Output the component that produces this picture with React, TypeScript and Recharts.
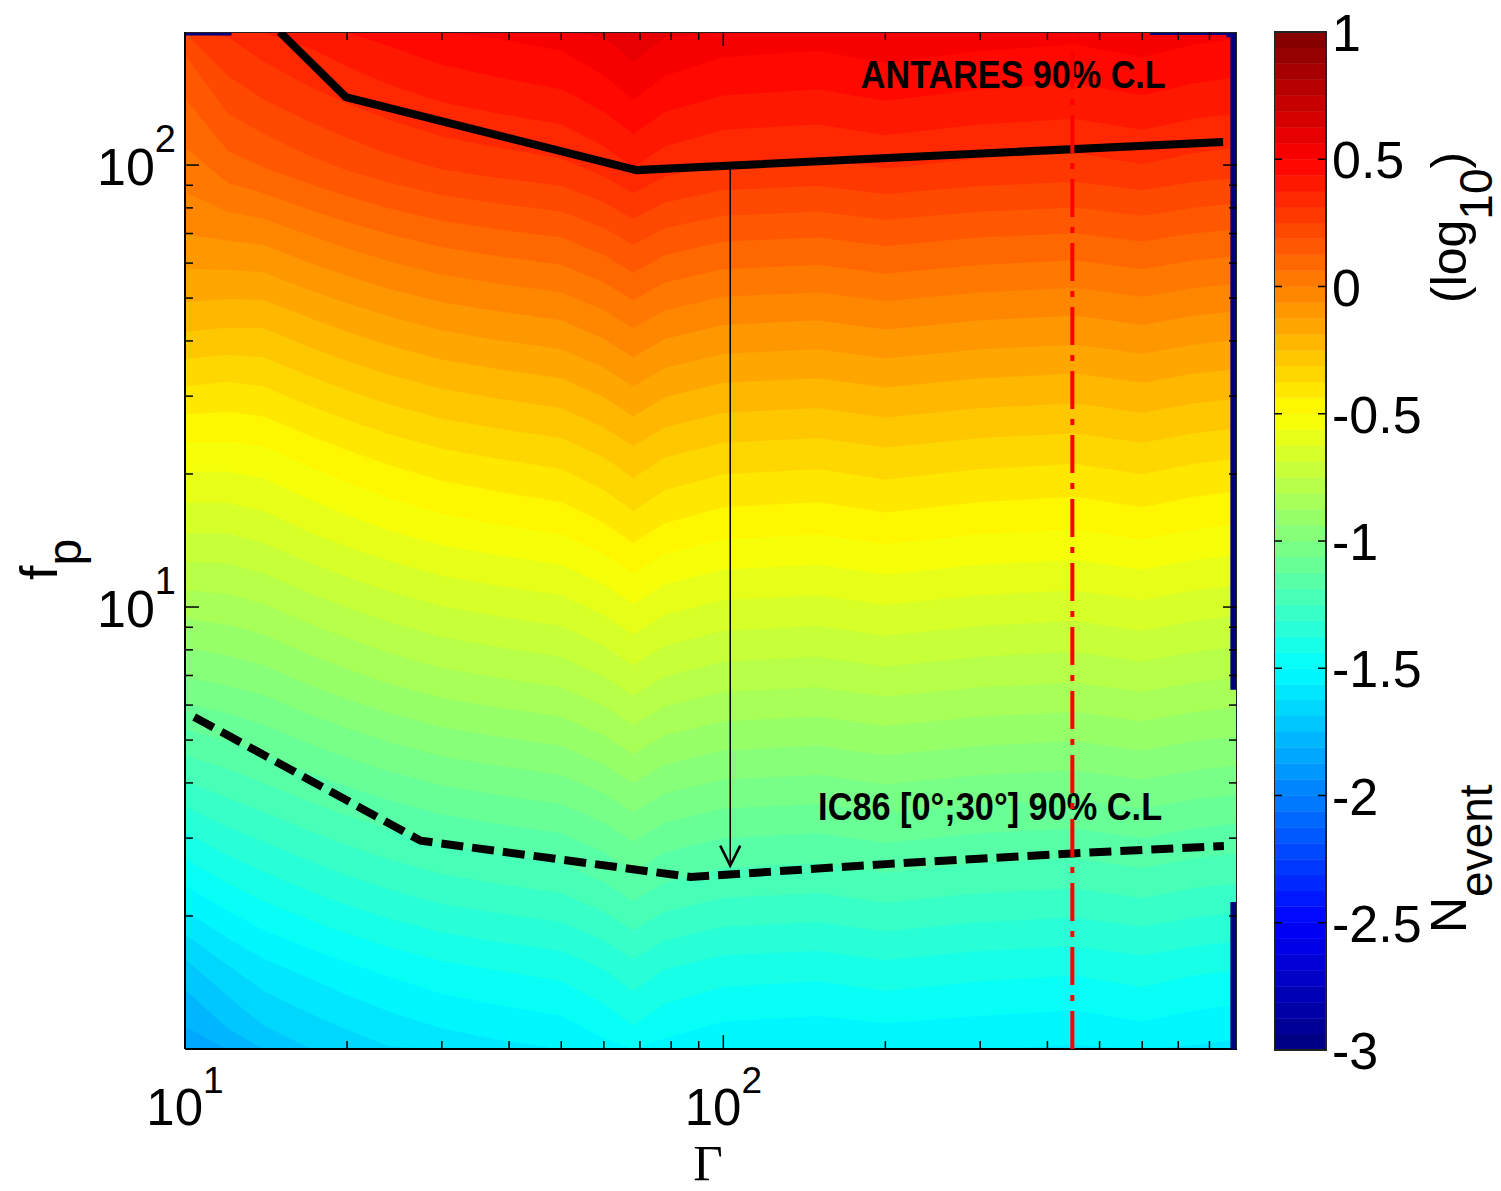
import React from 'react';
import { ComposedChart, ScatterChart, Area, Scatter, XAxis, YAxis, ReferenceArea } from 'recharts';

// axis ranges
const G_MIN = 10;
const G_MAX = 900;
const FP_MIN = 1;
const FP_MAX = 200;
const C_MIN = -3;
const C_MAX = 1;
const N_COLORS = 64;

// grid: log10(N_event) per Gamma column, rows follow fpRows
const gammaCols = [10, 12, 14, 17, 20, 24, 30, 38, 50, 60, 68, 78, 100, 150, 200, 300, 450, 600, 750, 900];
const fpRows = [1, 1.5, 2.2, 3.2, 4.6, 6.8, 10, 15, 22, 32, 46, 68, 100, 145, 200];

const nG10 = [-1.85, -1.72, -1.53, -1.36, -1.19, -1.01, -0.85, -0.68, -0.53, -0.37, -0.21, -0.07, 0.04, 0.13, 0.22];
const nG12 = [-1.79, -1.64, -1.47, -1.31, -1.16, -0.99, -0.84, -0.68, -0.53, -0.38, -0.22, -0.06, 0.1, 0.22, 0.32];
const nG14 = [-1.73, -1.59, -1.43, -1.28, -1.13, -0.97, -0.82, -0.66, -0.52, -0.37, -0.22, -0.05, 0.13, 0.26, 0.36];
const nG17 = [-1.69, -1.55, -1.39, -1.24, -1.09, -0.93, -0.78, -0.62, -0.48, -0.33, -0.18, -0.01, 0.17, 0.3, 0.4];
const nG20 = [-1.66, -1.52, -1.36, -1.21, -1.06, -0.9, -0.75, -0.59, -0.45, -0.3, -0.15, 0.02, 0.2, 0.33, 0.43];
const nG24 = [-1.63, -1.49, -1.33, -1.18, -1.03, -0.87, -0.72, -0.56, -0.42, -0.27, -0.12, 0.05, 0.23, 0.36, 0.46];
const nG30 = [-1.6, -1.46, -1.3, -1.15, -1.0, -0.84, -0.69, -0.53, -0.39, -0.24, -0.09, 0.08, 0.26, 0.39, 0.49];
const nG38 = [-1.58, -1.44, -1.28, -1.13, -0.98, -0.82, -0.67, -0.51, -0.37, -0.22, -0.07, 0.1, 0.28, 0.41, 0.51];
const nG50 = [-1.56, -1.42, -1.26, -1.11, -0.96, -0.8, -0.65, -0.49, -0.35, -0.2, -0.05, 0.12, 0.3, 0.43, 0.53];
const nG60 = [-1.52, -1.38, -1.22, -1.07, -0.92, -0.76, -0.61, -0.45, -0.31, -0.16, -0.01, 0.16, 0.34, 0.47, 0.57];
const nG68 = [-1.48, -1.34, -1.18, -1.03, -0.88, -0.72, -0.57, -0.41, -0.27, -0.12, 0.03, 0.2, 0.38, 0.51, 0.61];
const nG78 = [-1.52, -1.38, -1.22, -1.07, -0.92, -0.76, -0.61, -0.45, -0.31, -0.16, -0.01, 0.16, 0.34, 0.47, 0.57];
const nG100 = [-1.55, -1.41, -1.25, -1.1, -0.95, -0.79, -0.64, -0.48, -0.34, -0.19, -0.04, 0.13, 0.31, 0.44, 0.54];
const nG150 = [-1.56, -1.42, -1.26, -1.11, -0.96, -0.8, -0.65, -0.49, -0.35, -0.2, -0.05, 0.12, 0.3, 0.43, 0.53];
const nG200 = [-1.55, -1.4, -1.24, -1.09, -0.94, -0.78, -0.63, -0.47, -0.33, -0.18, -0.03, 0.14, 0.32, 0.45, 0.55];
const nG300 = [-1.56, -1.42, -1.26, -1.11, -0.96, -0.8, -0.65, -0.49, -0.35, -0.2, -0.05, 0.12, 0.3, 0.43, 0.53];
const nG450 = [-1.57, -1.43, -1.27, -1.12, -0.97, -0.81, -0.66, -0.5, -0.36, -0.21, -0.06, 0.11, 0.29, 0.42, 0.52];
const nG600 = [-1.55, -1.41, -1.25, -1.1, -0.95, -0.79, -0.64, -0.48, -0.34, -0.19, -0.04, 0.13, 0.31, 0.44, 0.54];
const nG750 = [-1.57, -1.43, -1.27, -1.12, -0.97, -0.81, -0.66, -0.5, -0.36, -0.21, -0.06, 0.11, 0.29, 0.42, 0.52];
const nG900 = [-1.58, -1.44, -1.28, -1.13, -0.98, -0.82, -0.67, -0.51, -0.37, -0.22, -0.07, 0.1, 0.28, 0.41, 0.51];

const nEventCols = [nG10, nG12, nG14, nG17, nG20, nG24, nG30, nG38, nG50, nG60, nG68, nG78, nG100, nG150, nG200, nG300, nG450, nG600, nG750, nG900];

// empty (lowest level) slivers along the frame: [gamma from, gamma to, fp from, fp to]
const gapGammaA = [888, 888, 10, 620, 860];
const gapGammaB = [888, 888, 12.2, 900, 900];
const gapFpA = [6.5, 1, 198, 198.5, 196];
const gapFpB = [200, 2.15, 198, 198.5, 196];

// limit curves
const antaresGamma = [15, 19.9, 69, 848];
const antaresFp = [200, 142.5, 97.4, 112.8];
const icGamma = [10.4, 27.4, 87, 200, 445, 851];
const icFp = [5.64, 2.96, 2.45, 2.62, 2.77, 2.88];

// arrow from the ANTARES to the IC86 limit, and the dash-dot marker
const arrowGamma = [103, 103];
const arrowFp = [99.4, 2.6];
const markGamma = [445, 445];
const markFp = [FP_MIN, FP_MAX];

const xTicks = [10, 20, 30, 40, 50, 60, 70, 80, 90, 100, 200, 300, 400, 500, 600, 700, 800];
const yTicks = [2, 3, 4, 5, 6, 7, 8, 9, 10, 20, 30, 40, 50, 60, 70, 80, 90, 100];
const cbTicks = [-3, -2.5, -2, -1.5, -1, -0.5, 0, 0.5, 1];

const notes = [
  { g: 180, fp: 149.3, text: 'ANTARES 90% C.L', w: 305 },
  { g: 150, fp: 3.3, text: 'IC86 [0°;30°] 90% C.L', w: 344 },
];

const FONT = '"Liberation Sans", Arial, Helvetica, sans-serif';
const SERIF = '"Liberation Serif", "Times New Roman", serif';
const PLOT_W = 1052;
const PLOT_H = 1017;

const clamp01 = (v: number) => Math.max(0, Math.min(1, v));
const jet = (v: number) => {
  const t = clamp01((v - C_MIN) / (C_MAX - C_MIN));
  const ch = (c: number) => Math.round(255 * clamp01(1.5 - Math.abs(4 * t - c)));
  return `rgb(${ch(3)},${ch(2)},${ch(1)})`;
};

const pts = (gs: number[], fps: number[]) => gs.map((g, i) => ({ g, fp: fps[i] }));
const noShape = () => <g />;

// filled contour levels (64-colour jet, like the colour bar)
const STEP = (C_MAX - C_MIN) / N_COLORS;
const allVals = nEventCols.flat();
const kLo = Math.floor((Math.min(...allVals) - C_MIN) / STEP);
const kHi = Math.floor((Math.max(...allVals) - C_MIN) / STEP);
const levels: number[] = [];
for (let k = kLo; k <= kHi; k++) levels.push(k);

// where a column reaches a contour level (fp above the crossing has a value above the level)
const crossing = (col: number[], L: number) => {
  if (L <= col[0]) return FP_MIN;
  for (let j = 0; j < col.length - 1; j++) {
    if (L <= col[j + 1]) {
      const f = (L - col[j]) / (col[j + 1] - col[j]);
      const a = Math.log10(fpRows[j]);
      const b = Math.log10(fpRows[j + 1]);
      return Math.pow(10, a + f * (b - a));
    }
  }
  return FP_MAX;
};

const contourData = gammaCols.map((g, i) => {
  const row: any = { g };
  levels.forEach((k) => {
    row[`lv${k}`] = [crossing(nEventCols[i], C_MIN + k * STEP), FP_MAX];
  });
  return row;
});

const isDecade = (v: number) => Math.abs(Math.log10(v) - Math.round(Math.log10(v))) < 1e-6;

const XTick = (props: any) => {
  const { x, y, payload } = props;
  const v = payload.value;
  const major = isDecade(v);
  const len = major ? 14 : 8;
  return (
    <g>
      <line x1={x} x2={x} y1={y} y2={y - len} stroke="#000" strokeWidth={1.5} />
      <line x1={x} x2={x} y1={y - PLOT_H} y2={y - PLOT_H + len} stroke="#000" strokeWidth={1.5} />
      {major && (
        <text x={x} y={y + 76} textAnchor="middle" fontFamily={FONT} fontSize={51} fill="#000">
          10<tspan dy={-32} fontSize={37}>{Math.round(Math.log10(v))}</tspan>
        </text>
      )}
    </g>
  );
};

const YTick = (props: any) => {
  const { x, y, payload } = props;
  const v = payload.value;
  const major = isDecade(v);
  const len = major ? 14 : 8;
  return (
    <g>
      <line x1={x} x2={x + len} y1={y} y2={y} stroke="#000" strokeWidth={1.5} />
      <line x1={x + PLOT_W} x2={x + PLOT_W - len} y1={y} y2={y} stroke="#000" strokeWidth={1.5} />
      {major && (
        <text x={x - 9} y={y + 20} textAnchor="end" fontFamily={FONT} fontSize={52} fill="#000">
          10<tspan dy={-33} fontSize={38}>{Math.round(Math.log10(v))}</tspan>
        </text>
      )}
    </g>
  );
};

const CbTick = (props: any) => {
  const { x, y, payload } = props;
  const v = payload.value;
  const edge = v === C_MIN || v === C_MAX;
  return (
    <g>
      {!edge && <line x1={x - 52} x2={x - 44} y1={y} y2={y} stroke="#000" strokeWidth={1.5} />}
      {!edge && <line x1={x - 8} x2={x} y1={y} y2={y} stroke="#000" strokeWidth={1.5} />}
      <text x={x + 6} y={y + 19} fontFamily={FONT} fontSize={52} fill="#000">
        {String(v)}
      </text>
    </g>
  );
};

const GammaTitle = () => (
  <text x={700} y={1172} textAnchor="middle" fontFamily={SERIF} fontSize={51} fill="#000">
    Γ
  </text>
);

const FpTitle = () => (
  <text transform="translate(49, 572) rotate(-90)" fontFamily={FONT} fontSize={52} fill="#000">
    f<tspan dy={24} fontSize={48}>p</tspan>
  </text>
);

// colour-bar chart coordinates (its svg starts at the top of the page)
const CbTitle = () => (
  <g fontFamily={FONT} fill="#000">
    <text transform="translate(192, 933) rotate(-90)" fontSize={50}>
      N<tspan dy={26} fontSize={46}>event</tspan>
    </text>
    <text transform="translate(192, 303) rotate(-90)" fontSize={50}>
      (log<tspan dy={26} fontSize={46}>10</tspan>
      <tspan dy={-26}>)</tspan>
    </text>
  </g>
);

const NoteShape = (p: any) => (
  <text
    x={p.cx}
    y={p.cy}
    fontFamily={FONT}
    fontWeight="bold"
    fontSize={39}
    fill="#000"
    textLength={p.payload.w}
    lengthAdjust="spacingAndGlyphs"
  >
    {p.payload.text}
  </text>
);

const ArrowShape = (p: any) =>
  p.payload.fp < 10 ? (
    <polyline
      points={`${p.cx - 10},${p.cy - 20} ${p.cx},${p.cy} ${p.cx + 10},${p.cy - 20}`}
      fill="none"
      stroke="#000"
      strokeWidth={2.5}
    />
  ) : (
    <g />
  );

const cbBands = Array.from({ length: N_COLORS }, (_, i) => ({
  y1: C_MIN + STEP * i,
  y2: C_MIN + STEP * (i + 1),
  c: jet(C_MIN + STEP * (i + 0.5)),
}));
const cbPoints = cbTicks.map((v) => ({ x: 0.5, v }));

export default function App() {
  return (
    <div style={{ position: 'relative', width: 1493, height: 1183, background: '#fff' }}>
      <div style={{ position: 'absolute', left: 0, top: 0 }}>
        <ComposedChart width={1493} height={1183} data={contourData} margin={{ top: 24, right: 264, bottom: 0, left: 0 }}>
          {levels.map((k) => (
            <Area
              key={k}
              type="linear"
              dataKey={`lv${k}`}
              stroke={jet(C_MIN + STEP * (k + 0.5))}
              strokeWidth={0.6}
              fill={jet(C_MIN + STEP * (k + 0.5))}
              fillOpacity={1}
              dot={false}
              activeDot={false}
              isAnimationActive={false}
            />
          ))}
          {gapGammaA.map((g, i) => (
            <Scatter
              key={`gap${i}`}
              dataKey="fp"
              data={[
                { g, fp: gapFpA[i] },
                { g: gapGammaB[i], fp: gapFpB[i] },
              ]}
              line={{ stroke: jet(C_MIN), strokeWidth: i < 2 ? 7 : 3 }}
              shape={noShape}
              isAnimationActive={false}
            />
          ))}
          <Scatter
            dataKey="fp"
            data={pts([G_MIN, G_MAX, G_MAX], [FP_MAX, FP_MAX, FP_MIN])}
            line={{ stroke: '#222', strokeWidth: 2 }}
            shape={noShape}
            isAnimationActive={false}
          />
          <Scatter
            dataKey="fp"
            data={pts(antaresGamma, antaresFp)}
            line={{ stroke: '#000', strokeWidth: 8 }}
            shape={noShape}
            isAnimationActive={false}
          />
          <Scatter
            dataKey="fp"
            data={pts(icGamma, icFp)}
            line={{ stroke: '#000', strokeWidth: 8, strokeDasharray: '22 9' }}
            shape={noShape}
            isAnimationActive={false}
          />
          <Scatter
            dataKey="fp"
            data={pts(arrowGamma, arrowFp)}
            line={{ stroke: '#000', strokeWidth: 1.5 }}
            shape={ArrowShape}
            isAnimationActive={false}
          />
          <Scatter dataKey="fp" data={notes} shape={NoteShape} isAnimationActive={false} />
          <Scatter
            dataKey="fp"
            data={pts(markGamma, markFp)}
            line={{ stroke: '#ff0000', strokeWidth: 4, strokeDasharray: '38 10 6 10' }}
            shape={noShape}
            isAnimationActive={false}
          />
          <XAxis
            type="number"
            dataKey="g"
            scale="log"
            domain={[G_MIN, G_MAX]}
            allowDataOverflow
            ticks={xTicks}
            interval={0}
            tick={<XTick />}
            tickLine={false}
            tickSize={0}
            tickMargin={0}
            axisLine={{ stroke: '#000', strokeWidth: 2 }}
            height={142}
            label={<GammaTitle />}
          />
          <YAxis
            type="number"
            scale="log"
            domain={[FP_MIN, FP_MAX]}
            allowDataOverflow
            ticks={yTicks}
            interval={0}
            tick={<YTick />}
            tickLine={false}
            tickSize={0}
            tickMargin={0}
            axisLine={{ stroke: '#000', strokeWidth: 2 }}
            width={177}
            label={<FpTitle />}
          />
        </ComposedChart>
      </div>
      <div style={{ position: 'absolute', left: 1266, top: -8 }}>
        <ScatterChart width={227} height={1191} margin={{ top: 32, right: 0, bottom: 141, left: 0 }}>
          {cbBands.map((b, i) => (
            <ReferenceArea
              key={i}
              x1={0}
              x2={1}
              y1={b.y1}
              y2={b.y2}
              fill={b.c}
              fillOpacity={1}
              stroke={b.c}
              strokeWidth={0.5}
              ifOverflow="visible"
            />
          ))}
          <ReferenceArea x1={0} x2={1} y1={C_MIN} y2={C_MAX} fill="none" stroke="#222" strokeWidth={2} ifOverflow="visible" />
          <Scatter data={cbPoints} shape={noShape} isAnimationActive={false} />
          <XAxis type="number" dataKey="x" domain={[0, 1]} hide />
          <YAxis
            type="number"
            dataKey="v"
            orientation="right"
            domain={[C_MIN, C_MAX]}
            ticks={cbTicks}
            interval={0}
            tick={<CbTick />}
            tickLine={false}
            tickSize={0}
            tickMargin={0}
            axisLine={false}
            width={175}
            label={<CbTitle />}
          />
        </ScatterChart>
      </div>
    </div>
  );
}
